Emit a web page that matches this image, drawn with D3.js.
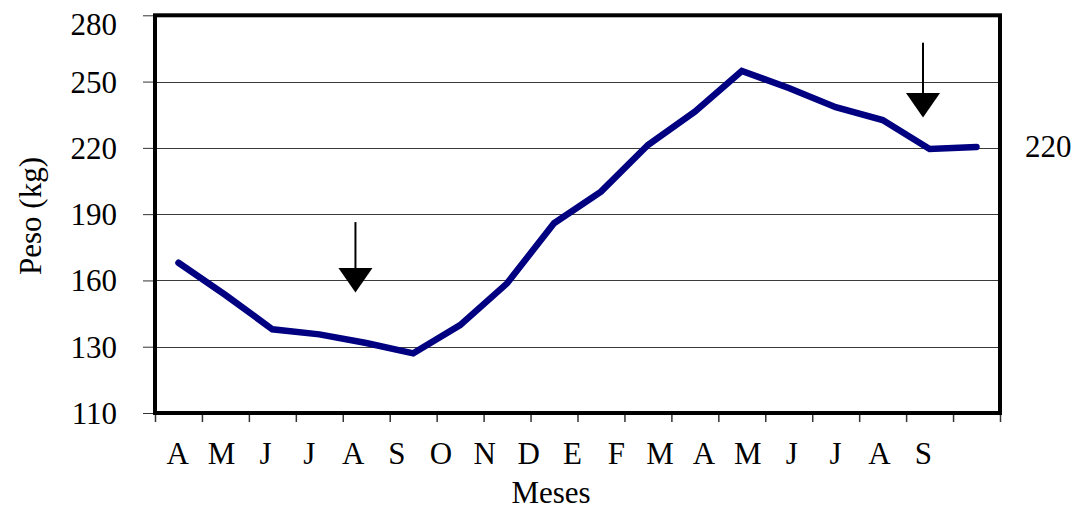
<!DOCTYPE html>
<html>
<head>
<meta charset="utf-8">
<script src="https://cdn.jsdelivr.net/npm/d3@7"></script>
<style>
  html, body { margin: 0; padding: 0; background: #fff; }
  svg { display: block; }
  text { font-family: "Liberation Serif", "Times New Roman", serif; fill: #000; }
</style>
</head>
<body>
<svg id="chart" width="1079" height="510"></svg>
<script>
// ---- data ----
const monthLabels = ["A","M","J","J","A","S","O","N","D","E","F","M","A","M","J","J","A","S"];
const weights = [168.0,153.4,137.9,135.6,131.7,127.0,139.8,158.7,185.9,200.2,221.3,236.4,254.8,247.1,238.4,232.6,219.5,220.4];
const yTickValues = [100,130,160,190,220,250,280];
const yTickLabels = ["110","130","160","190","220","250","280"];
const gridValues = [130,160,190,220,250];
const arrows = [ {pos: 4.27, top: 186.4, tip: 154.5}, {pos: 16.36, top: 267.6, tip: 233.8} ];
const endLabel = "220";
const xTitle = "Meses";
const yTitle = "Peso (kg)";

// ---- layout ----
const svg = d3.select("#chart");
const X0 = 155, X1 = 1000, Y0 = 15.3, Y1 = 413;
const FS = 31;

const xLin = d3.scaleLinear().domain([0, weights.length]).range([X0, X1]);
const y = d3.scaleLinear().domain([100, 280]).range([Y1, Y0]);
const labelX = d3.scalePoint().domain(d3.range(monthLabels.length)).range([177.7, 923.3]);

// gridlines
svg.append("g").selectAll("line").data(gridValues).join("line")
  .attr("x1", X0).attr("x2", X1)
  .attr("y1", d => Math.round(y(d)) + 0.5).attr("y2", d => Math.round(y(d)) + 0.5)
  .attr("stroke", "#3a3a3a").attr("stroke-width", 1);

// y axis ticks + labels
const yAxis = d3.axisLeft(y).tickValues(yTickValues).tickSize(12)
  .tickFormat((d, i) => yTickLabels[i]);
const gy = svg.append("g").attr("transform", `translate(${X0},0)`).call(yAxis);
gy.select(".domain").remove();
gy.selectAll(".tick line").attr("stroke", "#333").attr("stroke-width", 1);
gy.selectAll(".tick text")
  .attr("x", -38).attr("dy", null).attr("y", (d, i) => i === yTickValues.length - 1 ? 19 : 10.5)
  .style("font-size", FS + "px").style("font-family", "'Liberation Serif', serif").attr("fill", "#000");

// x axis ticks
const xAxis = d3.axisBottom(xLin).tickValues(d3.range(weights.length + 1)).tickSize(9).tickFormat("");
const gx = svg.append("g").attr("transform", `translate(0,${Y1})`).call(xAxis);
gx.select(".domain").remove();
gx.selectAll(".tick line").attr("stroke", "#333").attr("stroke-width", 1.5);

// month labels
svg.append("g").selectAll("text").data(monthLabels).join("text")
  .attr("x", (d, i) => labelX(i)).attr("y", 464)
  .attr("text-anchor", "middle").style("font-size", FS + "px")
  .text(d => d);

// line
const line = d3.line().x((d, i) => xLin(i + 0.5)).y(d => y(d));
svg.append("path").datum(weights)
  .attr("d", line).attr("fill", "none")
  .attr("stroke", "#000080").attr("stroke-width", 6.5)
  .attr("stroke-linejoin", "miter").attr("stroke-linecap", "round");

// arrows
const ag = svg.append("g");
arrows.forEach(a => {
  const ax = xLin(a.pos), yTip = y(a.tip), headH = 24.5, headW = 17;
  ag.append("line").attr("x1", ax).attr("x2", ax)
    .attr("y1", y(a.top)).attr("y2", yTip - headH + 2)
    .attr("stroke", "#000").attr("stroke-width", 2);
  ag.append("path")
    .attr("d", `M${ax - headW},${yTip - headH}L${ax + headW},${yTip - headH}L${ax},${yTip}Z`)
    .attr("fill", "#000");
});

// frame
svg.append("rect").attr("x", X0).attr("y", Y0).attr("width", X1 - X0).attr("height", Y1 - Y0)
  .attr("fill", "none").attr("stroke", "#000").attr("stroke-width", 4);

// end label
svg.append("text").attr("x", 1025).attr("y", y(weights[weights.length - 1]) + 10.5)
  .style("font-size", FS + "px").text(endLabel);

// axis titles
svg.append("text").attr("x", 551).attr("y", 503).attr("text-anchor", "middle")
  .style("font-size", FS + "px").text(xTitle);
svg.append("text").attr("transform", "translate(41,216) rotate(-90)")
  .attr("text-anchor", "middle").style("font-size", FS + "px").text(yTitle);
</script>
</body>
</html>
